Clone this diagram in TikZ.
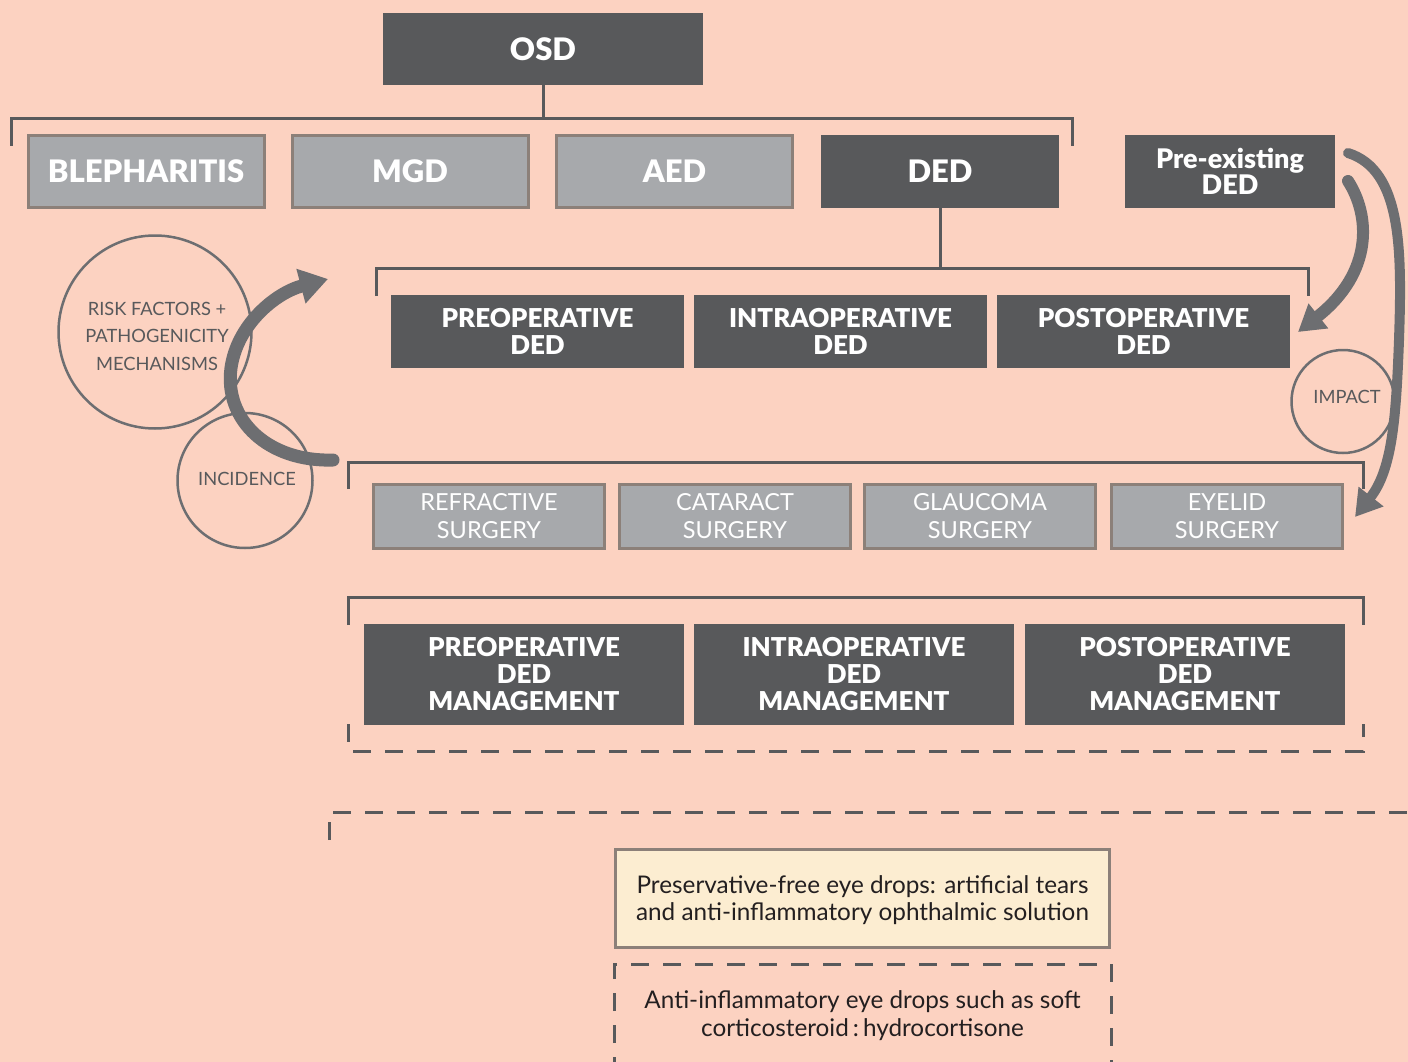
\documentclass[tikz,border=0pt]{standalone}
\usepackage{fontspec}
\setmainfont{Lato}
\newfontfamily\heavyfont{Lato Black}
\usetikzlibrary{arrows.meta}
\definecolor{bg}{HTML}{FCD2C1}
\definecolor{dark}{HTML}{58595B}
\definecolor{lgray}{HTML}{A7A9AC}
\definecolor{lborder}{HTML}{8C8079}
\definecolor{arr}{HTML}{6D6E71}
\definecolor{cream}{HTML}{FCEDD1}
\definecolor{txt}{HTML}{231F20}
\begin{document}
\begin{tikzpicture}[x=1pt,y=-1pt,
  darkbox/.style={fill=dark, text=white, align=center, inner sep=0pt},
  lightbox/.style={fill=lgray, draw=lborder, line width=3pt, text=white, align=center, inner sep=0pt},
  bigtxt/.style={font=\heavyfont\fontsize{31}{30}\selectfont},
  midtxt/.style={font=\heavyfont\fontsize{26}{27}\selectfont},
  surgtxt/.style={font=\fontsize{23.5}{28}\selectfont},
  ring/.style={circle, draw=arr, line width=2.5pt, inner sep=0pt},
  ringtxt/.style={text=dark, align=center, inner sep=0pt, font=\fontsize{18.3}{27.5}\selectfont},
  bracket/.style={draw=dark, line width=3pt},
  dashline/.style={draw=dark, line width=3pt, dash pattern=on 18pt off 14pt},
  bigarrow/.style={draw=arr, line cap=round},
]
\useasboundingbox (0,0) rectangle (1408,1062);
\fill[bg] (0,0) rectangle (1408,1062);

% top
\node[darkbox, minimum width=320, minimum height=72, font=\heavyfont\fontsize{31}{31}\selectfont] (osd) at (543,49) {OSD};
\node[lightbox, bigtxt, minimum width=236, minimum height=71] (bleph) at (146,171.5) {BLEPHARITIS};
\node[lightbox, bigtxt, minimum width=236, minimum height=71] (mgd) at (410,171.5) {MGD};
\node[lightbox, bigtxt, minimum width=236, minimum height=71] (aed) at (674.5,171.5) {AED};
\node[darkbox, bigtxt, minimum width=238, minimum height=73] (ded) at (940,171.5) {DED};
\node[darkbox, font=\heavyfont\fontsize{27}{26}\selectfont, minimum width=210, minimum height=73] (pre) at (1230,171.5) {Pre-existing\\DED};

\coordinate (b1) at (543,119);
\draw[bracket] (osd.south) -- (b1);
\draw[bracket] (11,146) -- (11,119) -- (1072,119) -- (1072,146);

% second row
\coordinate (b2) at (940,268);
\draw[bracket] (ded.south) -- (b2);
\draw[bracket] (376,296) -- (376,268) -- (1308,268) -- (1308,296);
\node[darkbox, midtxt, minimum width=293, minimum height=73] (preop) at (537.5,331.5) {PREOPERATIVE\\DED};
\node[darkbox, midtxt, minimum width=293, minimum height=73] (intraop) at (840.5,331.5) {INTRAOPERATIVE\\DED};
\node[darkbox, midtxt, minimum width=293, minimum height=73] (postop) at (1143.5,331.5) {POSTOPERATIVE\\DED};

% surgeries
\draw[bracket] (348,489) -- (348,462) -- (1363,462) -- (1363,489);
\node[lightbox, surgtxt, minimum width=231, minimum height=64] (refr) at (489,516.5) {REFRACTIVE\\SURGERY};
\node[lightbox, surgtxt, minimum width=231, minimum height=64] (cat) at (735,516.5) {CATARACT\\SURGERY};
\node[lightbox, surgtxt, minimum width=231, minimum height=64] (glau) at (980,516.5) {GLAUCOMA\\SURGERY};
\node[lightbox, surgtxt, minimum width=231, minimum height=64] (eyel) at (1227,516.5) {EYELID\\SURGERY};

% management
\draw[bracket] (348,625) -- (348,597) -- (1363,597) -- (1363,625);
\draw[dashline] (348,724) -- (348,751) -- (1363,751) -- (1363,724);
\node[darkbox, midtxt, minimum width=320, minimum height=101] (mpre) at (524,674.5) {PREOPERATIVE\\DED\\MANAGEMENT};
\node[darkbox, midtxt, minimum width=320, minimum height=101] (mintra) at (854,674.5) {INTRAOPERATIVE\\DED\\MANAGEMENT};
\node[darkbox, midtxt, minimum width=320, minimum height=101] (mpost) at (1185,674.5) {POSTOPERATIVE\\DED\\MANAGEMENT};

% bottom
\draw[dashline] (329,840) -- (329,812) -- (1408,812);
\node[fill=cream, draw=lborder, line width=3pt, inner sep=0pt, minimum width=494, minimum height=98] (cream) at (862.5,898.5) {};
\node[text=txt, align=center, inner sep=0pt, font=\fontsize{24.3}{27}\selectfont] (creamtxt) at (862.5,900.5) {Preservative-free eye drops: artificial tears\\and anti-inflammatory ophthalmic solution};
\draw[dashline] (614,1075) -- (614,964) -- (1111,964) -- (1111,1075);
\node[text=txt, align=center, inner sep=0pt, font=\fontsize{24.3}{28}\selectfont] (anti) at (862.5,1016) {Anti-inflammatory eye drops such as soft\\corticosteroid\,:\,hydrocortisone};

% circles
\node[ring, minimum size=193] (risk) at (155,332) {};
\node[ringtxt] (risktxt) at (157,336) {RISK FACTORS +\\PATHOGENICITY\\MECHANISMS};
\node[ring, minimum size=135] (inc) at (245,480.5) {};
\node[ringtxt] (inctxt) at (247,479) {INCIDENCE};
\node[ring, minimum size=103] (imp) at (1343,401.5) {};
\node[ringtxt] (imptxt) at (1347,397) {IMPACT};

% arrows
\coordinate (la0) at (333,460);
\coordinate (la1) at (328,279);
\draw[bigarrow, line width=13pt, -{Triangle[length=28pt,width=34pt]}] (la0) .. controls (268,462) and (224,420) .. (231,368) .. controls (237,325) and (275,293) .. (la1);

\coordinate (ra0) at (1348,181);
\coordinate (ra1) at (1298,332);
\draw[bigarrow, line width=12pt, -{Triangle[length=26pt,width=30pt]}] (ra0) .. controls (1370,215) and (1374,272) .. (ra1);

\coordinate (rb0) at (1348,153);
\coordinate (rb1) at (1355,517);
\draw[bigarrow, line width=10pt, -{Triangle[length=26pt,width=30pt]}] (rb0) .. controls (1402,170) and (1402,250) .. (1399,340) .. controls (1396,420) and (1392,470) .. (rb1);
\end{tikzpicture}
\end{document}
